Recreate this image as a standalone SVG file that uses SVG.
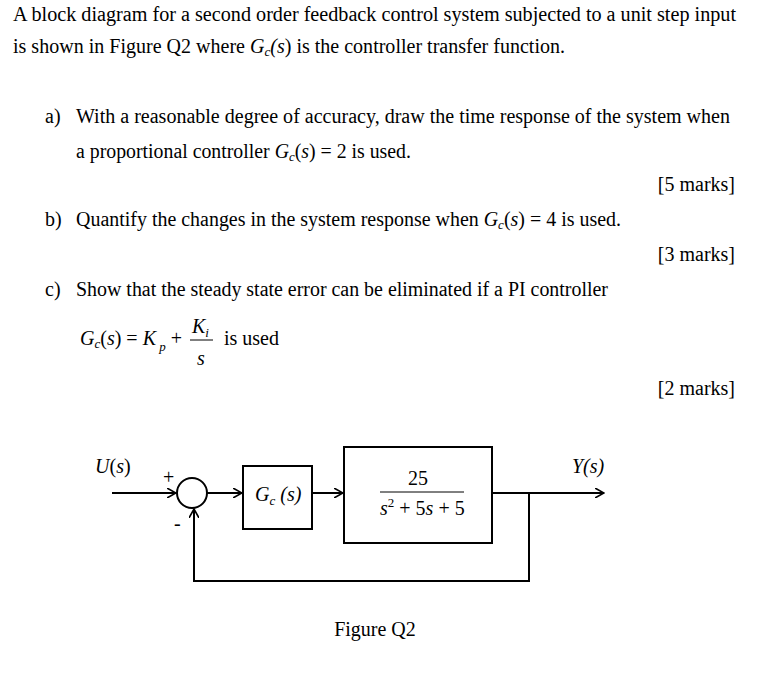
<svg xmlns="http://www.w3.org/2000/svg" width="769" height="676" viewBox="0 0 769 676">
<style>
text{font-family:"Liberation Serif","Times New Roman",serif;fill:#000;font-size:20px}
.i{font-style:italic}
.s{font-size:13px}
.ln{stroke:#000;stroke-width:2;fill:none}
</style>
<defs><marker id="a" markerWidth="10" markerHeight="10" refX="9" refY="5" orient="auto" markerUnits="userSpaceOnUse"><path d="M0,0 L9,5 L0,10" fill="none" stroke="#000" stroke-width="1.6"/></marker></defs>
<rect width="769" height="676" fill="#fff"/>
<text x="13" y="21" textLength="723" lengthAdjust="spacingAndGlyphs">A block diagram for a second order feedback control system subjected to a unit step input</text>
<text x="13" y="53" textLength="552" lengthAdjust="spacingAndGlyphs">is shown in Figure Q2 where <tspan class="i">G</tspan><tspan class="s i" dy="3">c</tspan><tspan dy="-3" class="i">(s</tspan>) is the controller transfer function.</text>
<text x="45" y="123">a)</text>
<text x="76" y="123" textLength="654" lengthAdjust="spacingAndGlyphs">With a reasonable degree of accuracy, draw the time response of the system when</text>
<text x="76" y="158" textLength="335" lengthAdjust="spacingAndGlyphs">a proportional controller <tspan class="i">G</tspan><tspan class="s i" dy="3">c</tspan><tspan dy="-3">(</tspan><tspan class="i">s</tspan>) = 2 is used.</text>
<text x="735" y="191" text-anchor="end">[5 marks]</text>
<text x="45" y="226">b)</text>
<text x="76" y="226" textLength="545" lengthAdjust="spacingAndGlyphs">Quantify the changes in the system response when <tspan class="i">G</tspan><tspan class="s i" dy="3">c</tspan><tspan dy="-3">(</tspan><tspan class="i">s</tspan>) = 4 is used.</text>
<text x="735" y="261" text-anchor="end">[3 marks]</text>
<text x="45" y="296">c)</text>
<text x="76" y="296" textLength="532" lengthAdjust="spacingAndGlyphs">Show that the steady state error can be eliminated if a PI controller</text>
<text x="80" y="345"><tspan class="i">G</tspan><tspan class="s i" dy="3">c</tspan><tspan dy="-3">(</tspan><tspan class="i">s</tspan>) = <tspan class="i">K</tspan><tspan class="s i" dy="6"> p</tspan><tspan dy="-6"> +</tspan></text>
<text x="192" y="333" class="i">K<tspan class="s" dy="4">i</tspan></text>
<line x1="190" y1="340" x2="213" y2="340" stroke="#000" stroke-width="1"/>
<text x="197" y="365" class="i" font-size="18">s</text>
<text x="224" y="345">is used</text>
<text x="735" y="395" text-anchor="end">[2 marks]</text>
<g id="connectors">
<line class="ln" x1="112" y1="493" x2="176" y2="493" marker-end="url(#a)"/>
<line class="ln" x1="207" y1="493" x2="242" y2="493" marker-end="url(#a)"/>
<line class="ln" x1="312" y1="493" x2="343" y2="493" marker-end="url(#a)"/>
<line class="ln" x1="492" y1="493" x2="604" y2="493" marker-end="url(#a)"/>
<polyline class="ln" points="529,493 529,581 194,581 194,509" marker-end="url(#a)"/>
</g>
<g id="sum"><circle class="ln" cx="192" cy="493" r="15"/>
<text x="163" y="484" font-size="14" font-family="Liberation Sans,sans-serif">+</text>
<text x="174" y="530" font-size="14" font-family="Liberation Sans,sans-serif">-</text></g>
<g id="Us"><text x="95" y="473"><tspan class="i">U</tspan>(<tspan class="i">s</tspan>)</text></g>
<g id="Ys"><text x="572" y="473" class="i">Y(s)</text></g>
<g id="gc"><rect class="ln" x="243" y="466" width="69" height="63"/>
<text x="255" y="501" class="i">G<tspan class="s" dy="4">c</tspan><tspan dy="-4"> (s)</tspan></text></g>
<g id="plant"><rect class="ln" x="344" y="447" width="148" height="96"/>
<text x="418" y="485" text-anchor="middle">25</text>
<line x1="380" y1="492" x2="464" y2="492" stroke="#000" stroke-width="1"/>
<text x="380" y="515"><tspan class="i">s</tspan><tspan class="s" dy="-8">2</tspan><tspan dy="8"> + 5</tspan><tspan class="i">s</tspan> + 5</text></g>
<text x="375" y="636" text-anchor="middle">Figure Q2</text>
</svg>
